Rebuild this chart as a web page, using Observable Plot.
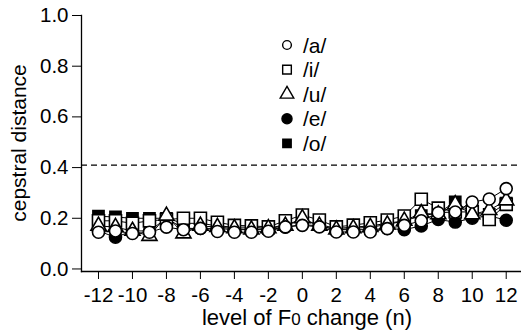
<!DOCTYPE html>
<html>
<head>
<meta charset="utf-8">
<script src="https://cdn.jsdelivr.net/npm/d3@7"></script>
<script src="https://cdn.jsdelivr.net/npm/@observablehq/plot@0.6"></script>
<style>
  html, body { margin: 0; padding: 0; background: #fff; }
  #chart { position: relative; width: 521px; height: 331px; }
</style>
</head>
<body>
<div id="chart"></div>
<script>
const levels = [-12,-11,-10,-9,-8,-7,-6,-5,-4,-3,-2,-1,0,1,2,3,4,5,6,7,8,9,10,11,12];
const vowelA = [0.145,0.15,0.14,0.145,0.165,0.155,0.16,0.148,0.145,0.145,0.149,0.166,0.172,0.166,0.146,0.146,0.146,0.159,0.172,0.19,0.222,0.225,0.264,0.276,0.317];
const vowelI = [0.19,0.19,0.18,0.19,0.195,0.2,0.2,0.184,0.172,0.17,0.166,0.19,0.213,0.193,0.166,0.173,0.182,0.193,0.209,0.275,0.24,0.225,0.225,0.195,0.255];
const vowelU = [0.17,0.165,0.15,0.13,0.21,0.14,0.17,0.165,0.16,0.155,0.16,0.17,0.2,0.17,0.155,0.16,0.165,0.175,0.19,0.22,0.215,0.255,0.215,0.232,0.27];
const vowelE = [0.15,0.125,0.15,0.15,0.2,0.16,0.16,0.16,0.155,0.155,0.155,0.165,0.175,0.17,0.155,0.155,0.155,0.16,0.155,0.17,0.195,0.185,0.2,0.21,0.192];
const vowelO = [0.208,0.205,0.2,0.2,0.2,0.18,0.18,0.17,0.165,0.165,0.16,0.175,0.19,0.175,0.16,0.165,0.17,0.18,0.19,0.21,0.22,0.265,0.22,0.215,0.26];
const threshold = 0.41;
const xTicks = [-12,-10,-8,-6,-4,-2,0,2,4,6,8,10,12];
const yTicks = [0,0.2,0.4,0.6,0.8,1.0];
const seriesNames = ["/a/","/i/","/u/","/e/","/o/"];

// drawing order (back to front): o, e, i, u, a
const series = [
  {name:"/o/", values: vowelO, symbol:"square", fill:"black", r:6.3},
  {name:"/e/", values: vowelE, symbol:"circle", fill:"black", r:6},
  {name:"/i/", values: vowelI, symbol:"square", fill:"white", r:6.8},
  {name:"/u/", values: vowelU, symbol:"triangle", fill:"white", r:5.6},
  {name:"/a/", values: vowelA, symbol:"circle", fill:"white", r:6}
];
const tables = series.map(s => ({...s, data: levels.map((x, i) => ({x, y: s.values[i]}))}));

const font = "'Liberation Sans', Arial, Helvetica, sans-serif";

const plot = Plot.plot({
  width: 521,
  height: 331,
  marginLeft: 81,
  marginRight: 0,
  marginTop: 15,
  marginBottom: 60,
  style: {fontFamily: font, fontSize: "20.5px", color: "black", background: "white"},
  x: {domain: [-13, 12.9]},
  y: {domain: [-0.01, 1.0]},
  marks: [
    Plot.ruleY([threshold], {stroke: "black", strokeWidth: 1.3, strokeDasharray: "6,4"}),
    ...tables.map(t => Plot.line(t.data, {x: "x", y: "y", stroke: "black", strokeWidth: 1})),
    ...tables.map(t => Plot.dot(t.data, {x: "x", y: "y", symbol: () => t.symbol, fill: t.fill, stroke: "black", strokeWidth: 1.6, r: t.r})),
    Plot.axisX({ticks: xTicks, tickSize: 8, tickPadding: 8, label: null, tickFormat: d => String(d).replace("−","-")}),
    Plot.axisY({ticks: yTicks, tickSize: 9, tickPadding: 4, label: null, tickFormat: d3.format(".1f")}),
    Plot.frame({anchor: "left", stroke: "black", strokeWidth: 1.3}),
    Plot.frame({anchor: "bottom", stroke: "black", strokeWidth: 1.3})
  ]
});

document.getElementById("chart").appendChild(plot);

const svg = d3.select(plot);
// x axis label with smaller "0" in F0
const xl = svg.append("text")
  .attr("x", 307).attr("y", 325)
  .attr("text-anchor", "middle")
  .attr("font-family", font).attr("font-size", 22).attr("fill", "black");
xl.append("tspan").text("level of F");
xl.append("tspan").attr("font-size", 17).text("0");
xl.append("tspan").text(" change (n)");

// y axis label
svg.append("text")
  .attr("transform", "translate(26,143) rotate(-90)")
  .attr("text-anchor", "middle")
  .attr("font-family", font).attr("font-size", 21).attr("fill", "black")
  .text("cepstral distance");

// legend
const legendSymbols = [
  {type: d3.symbolCircle, fill: "white", size: 60},
  {type: d3.symbolSquare, fill: "white", size: 75},
  {type: d3.symbolTriangle, fill: "white", size: 80},
  {type: d3.symbolCircle, fill: "black", size: 80},
  {type: d3.symbolSquare, fill: "black", size: 70}
];
const leg = svg.append("g").attr("transform", "translate(287,45)");
seriesNames.forEach((name, i) => {
  const g = leg.append("g").attr("transform", `translate(0,${i * 24.6})`);
  g.append("path")
    .attr("d", d3.symbol(legendSymbols[i].type, legendSymbols[i].size)())
    .attr("fill", legendSymbols[i].fill)
    .attr("stroke", "black").attr("stroke-width", 1.4);
  g.append("text")
    .attr("x", 16).attr("y", 7.5)
    .attr("text-anchor", "start")
    .attr("font-family", font).attr("font-size", 21).attr("fill", "black")
    .text(name);
});
</script>
</body>
</html>
